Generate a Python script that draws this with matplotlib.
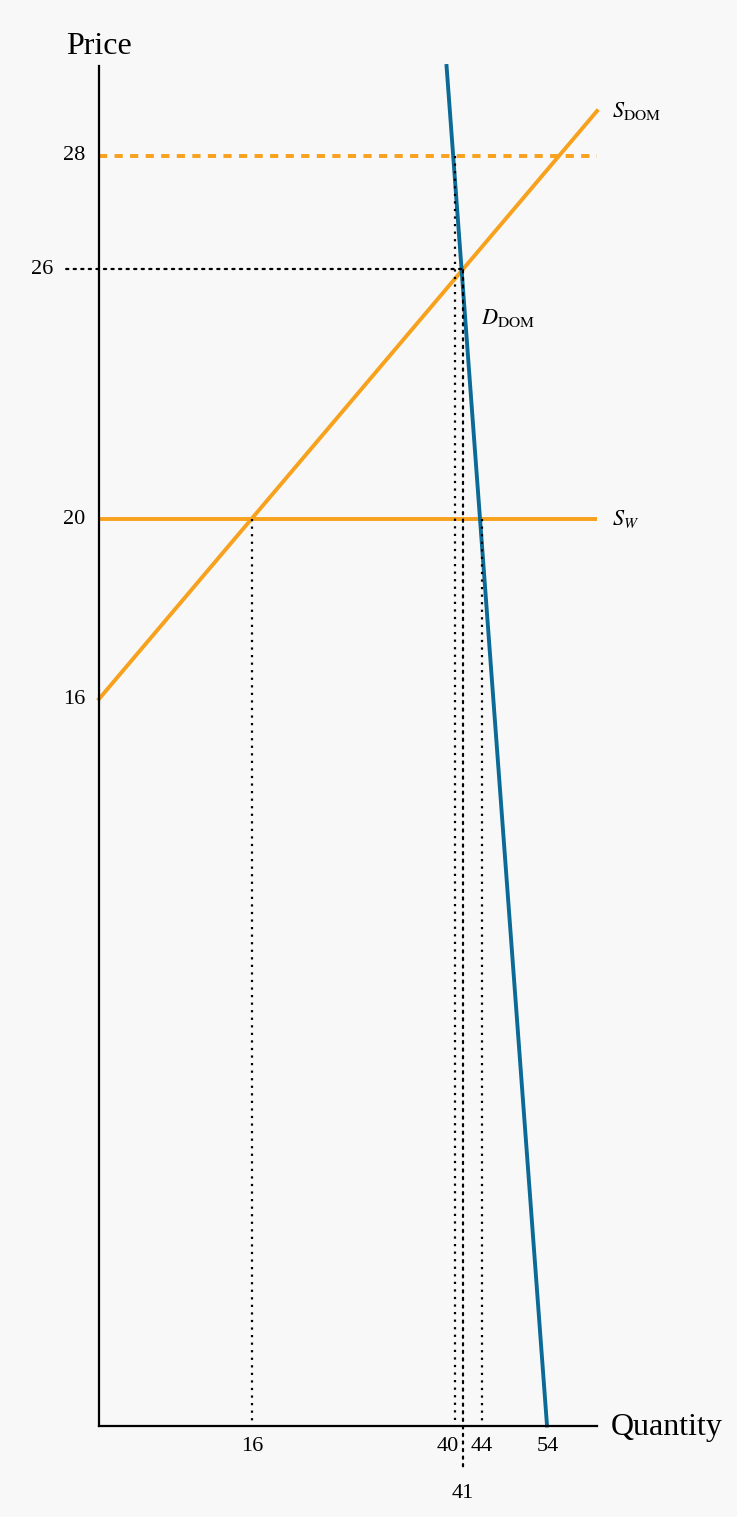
import matplotlib
matplotlib.use("Agg")
import matplotlib.pyplot as plt
import numpy as np

plt.rcParams['font.family'] = ['Liberation Serif', 'DejaVu Serif']
plt.rcParams['mathtext.fontset'] = 'stix'

# chart values
q_ticks = [16, 40, 44, 54]
p_ticks = [16, 20, 26, 28]
q_low_tick = 41

sdom_q = [0, 60]
sdom_p = [16, 29]
sw_q = [0, 60]
sw_p = [20, 20]
ddom_q = [39, 54]
ddom_p = [30, 0]
tariff_p = 28

# (q, p) points dropped to the axes with dotted guides
guide_pts = [(16, 20), (40, 28), (44, 20)]
eq_pt = (41, 26)

# the drawing is not to scale: piecewise axis mapping (value -> pixel)
q_knots = [0, 16, 40, 41, 44, 54, 60]
q_pix = [99, 252, 455, 463, 482, 547, 597]
p_knots = [0, 16, 20, 26, 28, 30]
p_pix = [-1425.5, -699, -519, -269, -156, -66]

ORANGE = '#f7a11c'
BLUE = '#0b6a96'
DOT = (0, (1, 2.4))
DOT_LW = 1.6

W, H = 737, 1517
fig = plt.figure(figsize=(W / 100, H / 100), dpi=100, facecolor='#f8f8f8')
ax = fig.add_axes([99 / W, (H - 1425.5) / H, (597 - 99) / W, (1425.5 - 66) / H])
ax.set_facecolor('none')

ax.set_xscale('function', functions=(lambda v: np.interp(v, q_knots, q_pix),
                                     lambda v: np.interp(v, q_pix, q_knots)))
ax.set_yscale('function', functions=(lambda v: np.interp(v, p_knots, p_pix),
                                     lambda v: np.interp(v, p_pix, p_knots)))
ax.set_xlim(0, 60)
ax.set_ylim(0, 30)

for s in ['top', 'right']:
    ax.spines[s].set_visible(False)
for s in ['left', 'bottom']:
    ax.spines[s].set_linewidth(1.6)
    ax.spines[s].set_zorder(5)
ax.set_xticks([])
ax.set_yticks([])

# dotted guides (drawn over the curves)
for q, p in guide_pts:
    ax.plot([q, q], [p, 0], color='black', lw=DOT_LW, linestyle=DOT, zorder=4)
lk = dict(arrowstyle='-', linestyle=DOT, lw=DOT_LW, color='black', shrinkA=0, shrinkB=0)
ax.annotate('', xy=eq_pt, xycoords='data', xytext=(-0.066, eq_pt[1]),
            textcoords=ax.get_yaxis_transform(), arrowprops=lk, zorder=4)
ax.annotate('', xy=eq_pt, xycoords='data', xytext=(eq_pt[0], -0.03),
            textcoords=ax.get_xaxis_transform(), arrowprops=lk, zorder=4)

# curves
ax.plot([0, 60], [tariff_p, tariff_p], color=ORANGE, lw=2.8, dashes=(2.1, 1.9),
        solid_capstyle='butt', dash_capstyle='butt', zorder=2)
ax.plot(sw_q, sw_p, color=ORANGE, lw=2.8, zorder=2)
ax.plot(sdom_q, sdom_p, color=ORANGE, lw=2.8, zorder=2, clip_on=False)
ax.plot(ddom_q, ddom_p, color=BLUE, lw=2.8, zorder=3, clip_on=False)

# curve labels
ax.annotate(r'$S_{\mathrm{DOM}}$', xy=(sdom_q[1], sdom_p[1]), xytext=(11, 0),
            textcoords='offset points', ha='left', va='center', fontsize=16)
ax.annotate(r'$S_W$', xy=(sw_q[1], sw_p[1]), xytext=(11, 0),
            textcoords='offset points', ha='left', va='center', fontsize=16)
ax.annotate(r'$D_{\mathrm{DOM}}$', xy=eq_pt, xytext=(13, -35),
            textcoords='offset points', ha='left', va='center', fontsize=16)

# tick labels
p_off = [-10, -10, -33, -10]
for v, dx in zip(p_ticks, p_off):
    ax.annotate(str(v), xy=(0, v), xytext=(dx, 0), textcoords='offset points',
                ha='right', va='center', fontsize=16, annotation_clip=False)
q_off = [0, -5.5, -0.5, 0.5]
for v, dx in zip(q_ticks, q_off):
    ax.annotate(str(v), xy=(v, 0), xytext=(dx, -8), textcoords='offset points',
                ha='center', va='top', fontsize=16, annotation_clip=False)
ax.annotate(str(q_low_tick), xy=(q_low_tick, 0), xytext=(0, -42),
            textcoords='offset points', ha='center', va='top', fontsize=16,
            annotation_clip=False)

# axis titles
fig.text(66 / W, 1 - 47 / H, 'Price', ha='left', va='center', fontsize=23)
fig.text(611 / W, 1 - 1427 / H, 'Quantity', ha='left', va='center', fontsize=23)

fig.savefig('out.png', dpi=100, facecolor=fig.get_facecolor())
